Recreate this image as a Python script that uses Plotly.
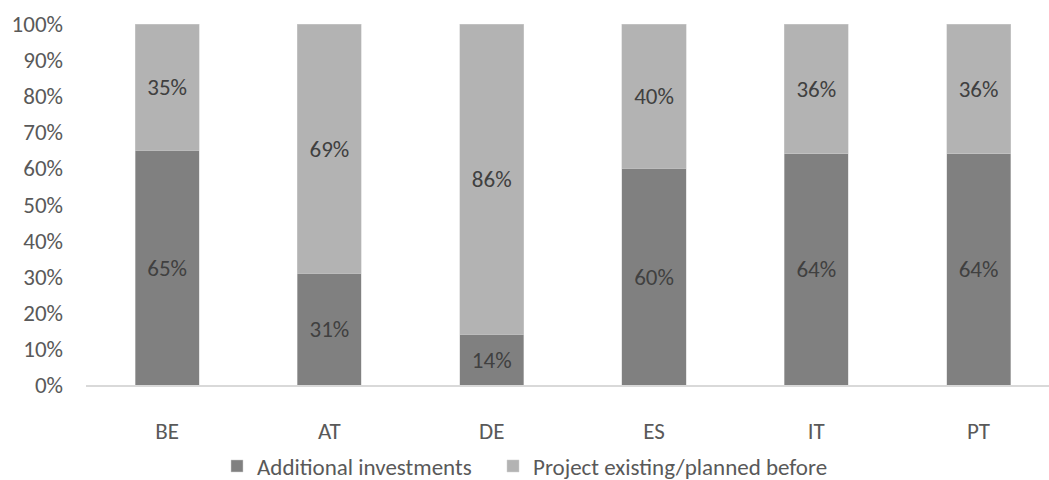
import plotly.graph_objects as go

categories = ["BE", "AT", "DE", "ES", "IT", "PT"]
additional = [0.65, 0.31, 0.14, 0.60, 0.64, 0.64]
existing = [0.35, 0.69, 0.86, 0.40, 0.36, 0.36]
series_names = ["Additional investments", "Project existing/planned before"]
y_ticks = [i / 10 for i in range(11)]
y_tick_labels = [f"{i*10}%" for i in range(11)]

FONT = "Carlito, Lato, 'Open Sans', sans-serif"
FS = 23

fig = go.Figure()
for name, vals, color, lg in [(series_names[0], additional, "#808080", "legend"),
                              (series_names[1], existing, "#b3b3b3", "legend2")]:
    fig.add_trace(go.Bar(
        x=categories, y=vals, name=name, legend=lg,
        marker=dict(color=color, line=dict(color="#d0d0d0", width=0.5)),
        width=0.395,
        text=[f"{round(v*100)}%" for v in vals],
        textposition="inside", insidetextanchor="middle",
        textfont=dict(color="#404040", size=FS, family=FONT),
        textangle=0,
    ))

legend_common = dict(orientation="h", xref="container", xanchor="left",
                     y=1 - 466 / 480, yref="container", yanchor="middle",
                     font=dict(size=FS, color="#595959"), itemwidth=30,
                     bgcolor="rgba(0,0,0,0)")

fig.update_layout(
    barmode="stack",
    width=1049, height=480,
    margin=dict(l=86, r=0, t=24, b=95, autoexpand=False),
    plot_bgcolor="white", paper_bgcolor="white",
    font=dict(family=FONT, size=FS, color="#595959"),
    showlegend=True,
    legend=dict(x=(233 - 16) / 1049, **legend_common),
    legend2=dict(x=(509 - 16) / 1049, **legend_common),
    uniformtext=dict(minsize=10, mode="show"),
)
fig.update_xaxes(range=[-0.5, 5.434], showline=True, linecolor="#d9d9d9", linewidth=1.5,
                 ticks="", showgrid=False, ticklabelstandoff=25, automargin=False,
                 tickfont=dict(size=FS, color="#595959"))
fig.update_yaxes(range=[0, 1], tickvals=y_ticks, ticktext=y_tick_labels,
                 showgrid=False, zeroline=False, showline=False, ticks="", automargin=False,
                 ticklabelstandoff=22, tickfont=dict(size=FS, color="#595959"))

fig.write_html("out.html", config={"displayModeBar": False},
               post_script="document.body.style.margin='0';document.body.style.overflow='hidden';")
